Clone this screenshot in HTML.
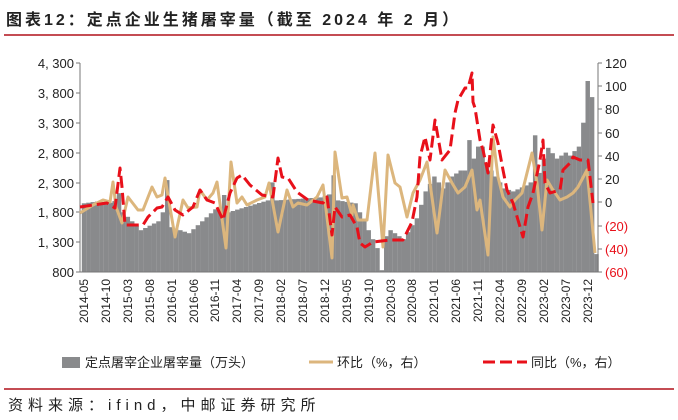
<!DOCTYPE html>
<html><head><meta charset="utf-8"><style>
body{margin:0;background:#fff;}
svg{display:block;font-family:"Liberation Sans","Noto Sans CJK SC",sans-serif;}
</style></head><body>
<svg id="s" width="678" height="420" viewBox="0 0 678 420" xmlns="http://www.w3.org/2000/svg">
<text x="6" y="25" font-size="16" font-weight="bold" letter-spacing="3" fill="#222">图表12：定点企业生猪屠宰量（截至 2024 年 2 月）</text>
<line x1="4" y1="35" x2="674" y2="35" stroke="#b0101a" stroke-width="1.5"/>
<g id="bars" fill="#898a8c"></g>
<g stroke="#777" stroke-width="1" fill="none">
<line x1="80" y1="63" x2="80" y2="272"/><line x1="80" y1="272" x2="598" y2="272"/><line x1="598" y1="63" x2="598" y2="272"/>
<path d="M76 63H80M76 93H80M76 123H80M76 153H80M76 183H80M76 212H80M76 242H80M76 272H80"/>
<path d="M598 63H602M598 86H602M598 109H602M598 133H602M598 156H602M598 179H602M598 202H602M598 226H602M598 249H602M598 272H602"/>
</g>
<g font-size="13" fill="#222" text-anchor="end">
<text x="74" y="68">4, 300</text><text x="74" y="98">3, 800</text><text x="74" y="128">3, 300</text><text x="74" y="158">2, 800</text><text x="74" y="188">2, 300</text><text x="74" y="217">1, 800</text><text x="74" y="247">1, 300</text><text x="74" y="277">800</text>
</g>
<g font-size="13" fill="#222">
<text x="605" y="68">120</text><text x="605" y="91">100</text><text x="605" y="114">80</text><text x="605" y="138">60</text><text x="605" y="161">40</text><text x="605" y="184">20</text><text x="605" y="207">0</text>
<text x="605" y="231" fill="#e8101a">(20)</text><text x="605" y="254" fill="#e8101a">(40)</text><text x="605" y="277" fill="#e8101a">(60)</text>
</g>
<polyline fill="none" stroke="#dcb67d" stroke-width="3" stroke-linejoin="round" points="80,213 93,205 103,200 110,202 113,182 116,207 122,223 128,197 138,210 143,210 152,187 157,197 162,195 165,178 175,237 183,200 188,208 197,207 200,190 207,200 213,193 217,182 226,248 231,162 237,203 242,197 247,205 257,200 265,197 269,183 278,232 287,190 293,207 298,203 307,205 317,197 323,185 332,258 335,152 342,198 347,197 352,215 353,205 358,220 360,220 367,220 375,153 383,247 388,155 395,183 400,187 407,217 413,193 420,180 427,162 437,233 445,170 452,183 458,193 465,187 472,170 477,210 480,200 488,255 493,137 498,177 503,197 510,207 515,200 522,193 532,153 537,183 542,230 547,180 553,190 560,200 567,197 573,193 578,187 587,170 595,253"/>
<polyline fill="none" stroke="#e8101a" stroke-width="3" stroke-dasharray="12,5" stroke-linejoin="round" points="80,207 93,205 107,203 115,208 120,168 122,187 125,225 132,225 143,225 148,217 157,208 162,207 168,197 175,210 183,215 193,207 200,190 207,200 215,203 223,220 230,193 237,178 242,175 250,185 262,195 273,197 278,158 282,177 288,178 297,192 308,200 323,203 327,197 332,235 335,207 342,217 350,215 357,227 360,243 365,247 373,242 390,240 403,240 412,222 417,197 420,157 425,137 430,160 435,120 438,137 442,160 450,150 455,113 458,100 465,88 468,88 472,73 473,102 475,108 480,140 483,150 488,173 493,125 498,143 503,170 507,190 513,203 523,237 528,207 533,193 540,160 543,140 545,183 550,193 560,190 563,170 570,163 573,157 580,160 588,160 593,203"/>
<g font-size="12" fill="#222" text-anchor="end">
<text transform="translate(88,279) rotate(-90)">2014-05</text>
<text transform="translate(110,279) rotate(-90)">2014-10</text>
<text transform="translate(132,279) rotate(-90)">2015-03</text>
<text transform="translate(154,279) rotate(-90)">2015-08</text>
<text transform="translate(176,279) rotate(-90)">2016-01</text>
<text transform="translate(198,279) rotate(-90)">2016-06</text>
<text transform="translate(219,279) rotate(-90)">2016-11</text>
<text transform="translate(241,279) rotate(-90)">2017-04</text>
<text transform="translate(263,279) rotate(-90)">2017-09</text>
<text transform="translate(285,279) rotate(-90)">2018-02</text>
<text transform="translate(307,279) rotate(-90)">2018-07</text>
<text transform="translate(329,279) rotate(-90)">2018-12</text>
<text transform="translate(351,279) rotate(-90)">2019-05</text>
<text transform="translate(373,279) rotate(-90)">2019-10</text>
<text transform="translate(395,279) rotate(-90)">2020-03</text>
<text transform="translate(416,279) rotate(-90)">2020-08</text>
<text transform="translate(438,279) rotate(-90)">2021-01</text>
<text transform="translate(460,279) rotate(-90)">2021-06</text>
<text transform="translate(482,279) rotate(-90)">2021-11</text>
<text transform="translate(504,279) rotate(-90)">2022-04</text>
<text transform="translate(526,279) rotate(-90)">2022-09</text>
<text transform="translate(548,279) rotate(-90)">2023-02</text>
<text transform="translate(570,279) rotate(-90)">2023-07</text>
<text transform="translate(592,279) rotate(-90)">2023-12</text>
</g>
<rect x="62" y="357" width="18" height="11" fill="#898a8c"/>
<text x="85" y="367" font-size="13" fill="#222">定点屠宰企业屠宰量（万头）</text>
<line x1="309" y1="362" x2="333" y2="362" stroke="#dcb67d" stroke-width="3"/>
<text x="337" y="367" font-size="13" fill="#222">环比（%，右）</text>
<line x1="483" y1="362" x2="527" y2="362" stroke="#e8101a" stroke-width="3" stroke-dasharray="12,5"/>
<text x="531" y="367" font-size="13" fill="#222">同比（%，右）</text>
<line x1="4" y1="389" x2="674" y2="389" stroke="#b0101a" stroke-width="1.5"/>
<text x="8" y="410" font-size="15" letter-spacing="5" fill="#222">资料来源：ifind，中邮证券研究所</text>
</svg>
<script>
var k=[[0,1950],[3,1980],[6,1960],[7,1990],[8,2120],[9,1800],[13,1500],[17,1650],[18,1800],[19,2340],[20,1550],[24,1450],[30,1850],[31,1880],[32,2090],[33,1800],[42,2000],[43,2300],[44,2000],[54,2050],[56,2100],[57,2420],[58,2000],[62,1950],[65,1500],[67,1200],[68,830],[69,1400],[70,1500],[73,1350],[76,1700],[78,2150],[80,2400],[82,2200],[84,2400],[86,2500],[87,2500],[88,3010],[89,2700],[90,2900],[91,2900],[92,2600],[94,2400],[96,2200],[98,2150],[101,2250],[102,2300],[103,3090],[104,2460],[105,2700],[106,2880],[108,2700],[110,2800],[111,2750],[113,2900],[114,3300],[115,4000],[116,3730],[117,1100]];
function v(i){for(var j=0;j<k.length-1;j++){if(i>=k[j][0]&&i<=k[j+1][0]){var t=(i-k[j][0])/(k[j+1][0]-k[j][0]);return k[j][1]+t*(k[j+1][1]-k[j][1]);}}return 1950;}
var g=document.getElementById('bars'),h='';
for(var i=0;i<118;i++){var x=81.8+4.38*i;var y=272-(v(i)-800)/16.75;h+='<rect x="'+x.toFixed(2)+'" y="'+y.toFixed(1)+'" width="4.45" height="'+(272-y).toFixed(1)+'"/>';}
g.innerHTML=h;
</script>
</body></html>
